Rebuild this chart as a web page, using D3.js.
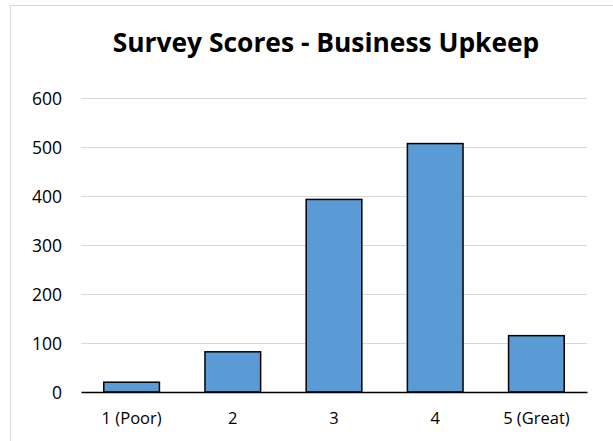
<!DOCTYPE html>
<html><head><meta charset="utf-8">
<script src="https://cdn.jsdelivr.net/npm/d3@7"></script>
<style>body{margin:0;background:#fff}svg{display:block}</style>
</head><body>
<svg id="c" width="613" height="441"></svg>
<script>
const categories = ["1 (Poor)", "2", "3", "4", "5 (Great)"];
const values = [20, 82, 393, 507, 115];
const yTicks = [0, 100, 200, 300, 400, 500, 600];
const title = "Survey Scores - Business Upkeep";

const svg = d3.select("#c");
const W = 613, H = 441;
const m = {left: 81, right: 26, top: 98, bottom: 49};
const FONT = "'Open Sans', sans-serif";

svg.append("rect").attr("x", 10.5).attr("y", 5.5).attr("width", 620).attr("height", 450)
  .attr("fill", "#fff").attr("stroke", "#d9d9d9").attr("stroke-width", 1);

const x = d3.scaleBand().domain(categories).range([m.left, W - m.right]).paddingInner(0.45).paddingOuter(0.225);
const y = d3.scaleLinear().domain([0, 600]).range([H - m.bottom, m.top]);

// gridlines
svg.append("g").selectAll("line").data(yTicks.filter(d => d > 0)).join("line")
  .attr("x1", m.left).attr("x2", W - m.right)
  .attr("y1", d => Math.round(y(d)) + 0.5).attr("y2", d => Math.round(y(d)) + 0.5)
  .attr("stroke", "#d9d9d9").attr("stroke-width", 1);

// y axis labels
const yAxis = d3.axisLeft(y).tickValues(yTicks).tickSize(0).tickPadding(19);
const gy = svg.append("g").attr("transform", `translate(${m.left},0)`).call(yAxis);
gy.select(".domain").remove();
gy.selectAll("text").attr("font-family", FONT)
  .attr("font-size", 17.5).attr("fill", "#000").attr("dy", "0.35em");

// bars
svg.append("g").selectAll("rect").data(values).join("rect")
  .attr("x", (d, i) => x(categories[i]))
  .attr("y", d => y(d))
  .attr("width", x.bandwidth())
  .attr("height", d => y(0) - y(d))
  .attr("fill", "#5b9bd5").attr("stroke", "#000").attr("stroke-width", 1.5);

// x axis
const xAxis = d3.axisBottom(x).tickSize(0).tickPadding(20);
const gx = svg.append("g").attr("transform", `translate(0,${y(0)})`).call(xAxis);
gx.select(".domain").attr("stroke", "#000").attr("stroke-width", 1.3);
gx.selectAll("text").attr("font-family", FONT)
  .attr("font-size", 16.5).attr("fill", "#000");

// title
const t = svg.append("text").attr("x", 326).attr("y", 52).attr("text-anchor", "middle")
  .attr("font-family", FONT).attr("font-weight", "bold")
  .attr("font-size", 24).attr("fill", "#000").text(title);
const len = t.node().getComputedTextLength();
t.attr("font-size", 24 * 427 / len);
</script>
</body></html>
